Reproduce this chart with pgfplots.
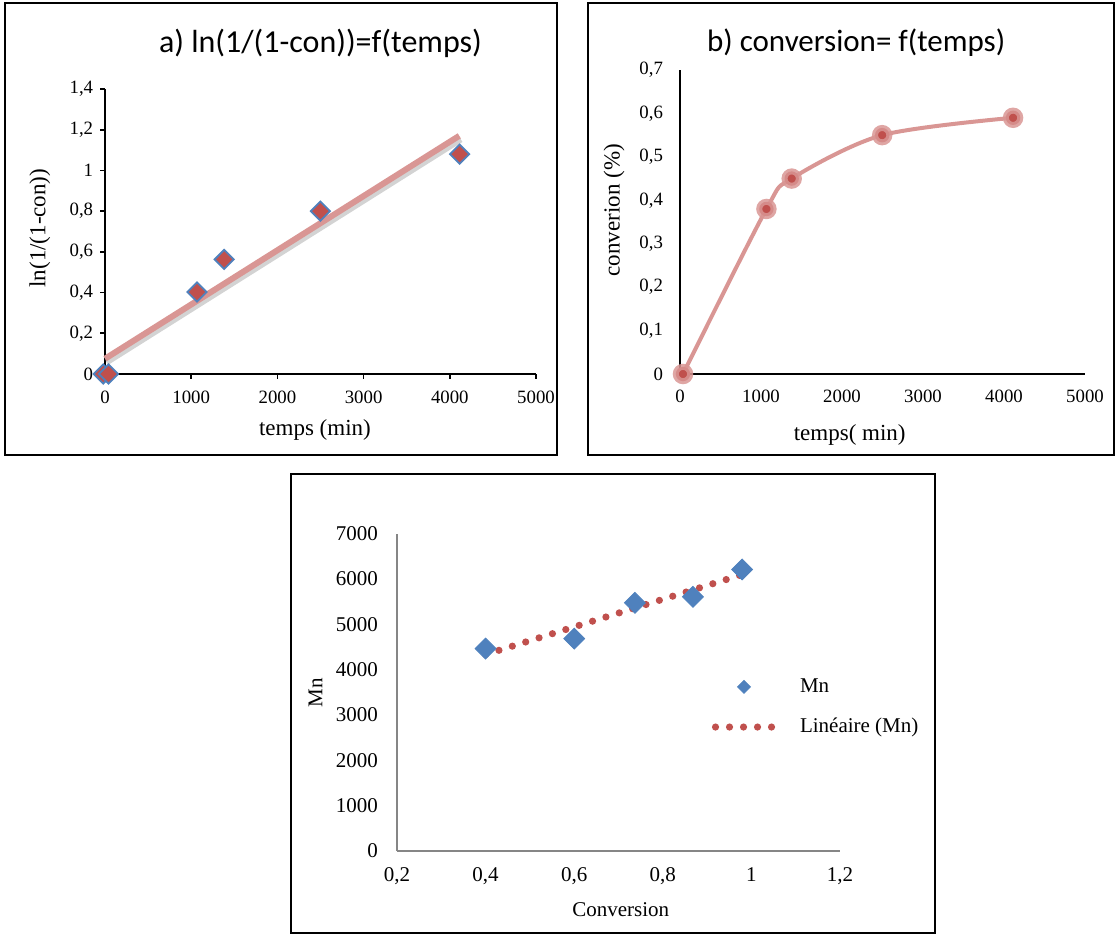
\documentclass[border=0pt]{standalone}
\usepackage{fontspec}
\setmainfont{Liberation Serif}
\newfontfamily\titlefont{Carlito}
\usepackage{pgfplots}
\pgfplotsset{compat=1.18}
\definecolor{salmon}{RGB}{217,150,148}
\definecolor{xlred}{RGB}{192,80,77}
\definecolor{xlblue}{RGB}{79,129,189}
\definecolor{axgray}{RGB}{134,134,134}
\pgfplotsset{
  common/.style={
    scale only axis, axis lines*=left, clip=false,
    every axis title shift=0pt,
    /pgf/number format/assume math mode=true,
    /pgf/number format/use comma,
    /pgf/number format/1000 sep={},
    yticklabel style={/pgf/number format/fixed,/pgf/number format/precision=1},
    xticklabel style={/pgf/number format/fixed,/pgf/number format/precision=1},
  },
  mnleg/.style={legend image code/.code={\draw[##1, mark size=2.3pt] plot coordinates {(0.5cm,0cm)};}},
  trendleg/.style={legend image code/.code={\draw[##1] (0cm,0cm) -- (1cm,0cm);}},
}
\begin{document}
\begin{tikzpicture}[x=1pt,y=1pt]
\useasboundingbox (0,0) rectangle (557.5,467);
% frames
\draw[line width=0.8pt] (2.5,465.5) rectangle (278.5,239.5);
\draw[line width=0.8pt] (294,465.5) rectangle (557,239.5);
\draw[line width=0.8pt] (145.5,230) rectangle (467.5,0.5);

% ---------- panel a ----------
\begin{axis}[common,
  at={(52.5pt,280pt)}, anchor=south west,
  width=215.5pt, height=142.5pt,
  xmin=0, xmax=5000, ymin=0, ymax=1.4,
  xtick={0,1000,2000,3000,4000,5000},
  ytick={0,0.2,0.4,0.6,0.8,1,1.2,1.4},
  tick align=outside, major tick length=2.4pt,
  tick style={black, line width=0.8pt},
  axis line style={black, line width=0.8pt},
  ticklabel style={font=\fontsize{9.4}{11}\selectfont},
  xticklabel style={yshift=-2.5pt},
  title={a) ln(1/(1-con))=f(temps)},
  title style={at={(axis description cs:0.5,1.161)}, anchor=center, font=\titlefont\fontsize{16}{19}\selectfont},
  xlabel={temps (min)},
  xlabel style={at={(axis description cs:0.487,-0.196)}, anchor=center, font=\fontsize{11.5}{13}\selectfont},
  ylabel={ln(1/(1-con))},
  ylabel style={at={(axis description cs:-0.151,0.512)}, anchor=center, font=\fontsize{11.5}{13}\selectfont},
]
\addplot[gray, opacity=0.35, line width=3pt, xshift=0.8pt, yshift=-1.8pt, forget plot] coordinates {(0,0.075) (4110,1.17)};
\addplot[salmon, line width=3pt, forget plot] coordinates {(0,0.075) (4110,1.17)};
\addplot[only marks, mark=square*, mark size=3.4pt,
  mark options={rotate=45, fill=xlred, draw=xlblue, line width=0.9pt}]
  coordinates {(-20,0) (40,0) (1067,0.403) (1383,0.563) (2499,0.80) (4114,1.08)};
\end{axis}

% ---------- panel b ----------
\begin{axis}[common,
  at={(340pt,280pt)}, anchor=south west,
  width=202.5pt, height=152pt,
  xmin=0, xmax=5000, ymin=0, ymax=0.7,
  xtick={0,1000,2000,3000,4000,5000},
  ytick={0,0.1,0.2,0.3,0.4,0.5,0.6,0.7},
  major tick length=0pt,
  axis line style={black, line width=0.9pt},
  ticklabel style={font=\fontsize{9.4}{11}\selectfont},
  xticklabel style={yshift=-4.5pt},
  yticklabel style={xshift=-5pt},
  title={b) conversion= f(temps)},
  title style={at={(axis description cs:0.435,1.089)}, anchor=center, font=\titlefont\fontsize{15.5}{18}\selectfont},
  xlabel={temps( min)},
  xlabel style={at={(axis description cs:0.419,-0.2)}, anchor=center, font=\fontsize{11.5}{13}\selectfont},
  ylabel={converion (\%)},
  ylabel style={at={(axis description cs:-0.163,0.539)}, anchor=center, font=\fontsize{11.5}{13}\selectfont},
]
\addplot[salmon, line width=2pt, smooth, mark=*, mark size=3.6pt,
  mark options={fill=xlred, draw=salmon, draw opacity=0.85, line width=3pt}]
  coordinates {(37,0) (1067,0.38) (1379,0.45) (2496,0.55) (4112,0.59)};
\end{axis}

% ---------- panel c ----------
\begin{axis}[common,
  at={(198.5pt,41.65pt)}, anchor=south west,
  width=221.5pt, height=158.5pt,
  xmin=0.2, xmax=1.2, ymin=0, ymax=7000,
  xtick={0.2,0.4,0.6,0.8,1,1.2},
  ytick={0,1000,2000,3000,4000,5000,6000,7000},
  major tick length=0pt,
  axis line style={axgray, line width=0.8pt},
  ticklabel style={font=\fontsize{10.5}{12}\selectfont},
  xticklabel style={yshift=-5pt},
  yticklabel style={xshift=-6pt, /pgf/number format/precision=0},
  xlabel={Conversion},
  xlabel style={at={(axis description cs:0.505,-0.187)}, anchor=center, font=\fontsize{10.5}{12}\selectfont},
  ylabel={Mn},
  ylabel style={at={(axis description cs:-0.184,0.498)}, anchor=center, font=\fontsize{10.5}{12}\selectfont},
  legend style={draw=none, fill=none, inner sep=0pt,
    at={(axis cs:0.91,3900)}, anchor=north west,
    font=\fontsize{10.5}{12}\selectfont, row sep=7.5pt,
    /tikz/every odd column/.append style={column sep=10pt}},
  legend cell align=left,
]
\addplot[only marks, mark=square*, mark size=3.7pt,
  mark options={rotate=45, fill=xlblue, draw=xlblue}, mnleg]
  coordinates {(0.4,4463) (0.6,4684) (0.737,5473) (0.868,5606) (0.979,6211)};
\addlegendentry{Mn}
\addplot[xlred, line width=3.6pt, line cap=round, dash pattern=on 0pt off 7pt, trendleg]
  coordinates {(0.4,4333) (0.98,6100)};
\addlegendentry{Linéaire (Mn)}
\end{axis}
\end{tikzpicture}
\end{document}
